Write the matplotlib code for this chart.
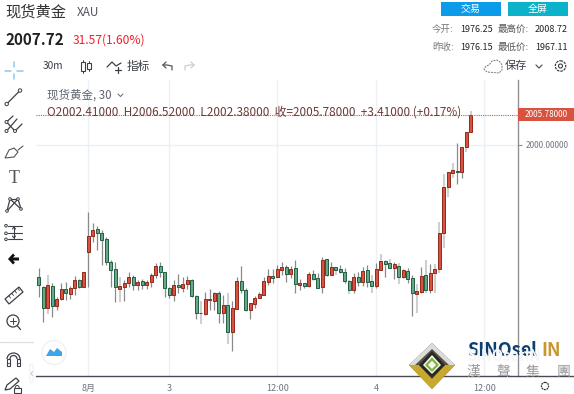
import matplotlib
matplotlib.use('Agg')
import matplotlib.pyplot as plt
from matplotlib.patches import Rectangle, Polygon, Circle, FancyBboxPatch, Arc

plt.rcParams['font.family'] = ['Noto Sans CJK SC', 'DejaVu Sans']

# candles (red = up, green = down)
opens = [1974.40, 1972.61, 1968.43, 1972.80, 1968.95, 1970.29, 1972.09, 1971.26, 1972.41, 1973.83,
         1972.61, 1979.22, 1982.30, 1983.65, 1983.01, 1981.72, 1977.36, 1975.95, 1972.22, 1972.61,
         1973.31, 1974.40, 1972.86, 1973.63, 1972.99, 1973.44, 1974.92, 1976.65, 1975.37, 1972.41,
         1971.06, 1972.86, 1972.41, 1973.11, 1973.89, 1970.87, 1967.53, 1967.33, 1970.03, 1969.91,
         1971.32, 1967.46, 1969.14, 1963.81, 1968.37, 1973.63, 1972.03, 1968.04, 1969.33, 1970.42,
         1970.93, 1973.56, 1974.60, 1974.47, 1975.88, 1976.33, 1975.11, 1976.13, 1972.99, 1973.25,
         1972.73, 1975.04, 1974.21, 1972.60, 1977.87, 1974.92, 1976.33, 1975.94, 1975.49, 1973.76,
         1972.03, 1974.47, 1973.57, 1975.75, 1973.76, 1972.67, 1975.88, 1977.49, 1977.10, 1976.27,
         1976.65, 1974.40, 1975.62, 1974.21, 1971.26, 1971.51, 1974.85, 1972.03, 1975.30, 1975.95,
         1983.01, 1991.75, 1994.57, 1994.83, 1994.70, 1999.59, 2002.41]
highs = [1976.14, 1972.73, 1974.92, 1973.38, 1970.55, 1973.38, 1973.44, 1972.73, 1974.66, 1974.02,
         1975.37, 1986.93, 1984.81, 1984.30, 1983.53, 1982.11, 1977.74, 1977.30, 1974.40, 1973.89,
         1975.43, 1974.85, 1973.89, 1974.02, 1973.89, 1975.18, 1977.23, 1977.42, 1975.50, 1972.61,
         1973.89, 1975.04, 1974.53, 1974.66, 1974.01, 1970.93, 1969.91, 1971.64, 1972.09, 1971.58,
         1971.71, 1971.06, 1971.32, 1969.91, 1974.40, 1976.58, 1972.28, 1969.39, 1970.80, 1971.64,
         1974.53, 1975.94, 1975.94, 1976.78, 1977.42, 1976.78, 1976.58, 1977.74, 1974.01, 1973.37,
         1975.49, 1975.82, 1975.17, 1978.38, 1977.87, 1977.29, 1976.46, 1976.71, 1976.14, 1973.89,
         1975.30, 1975.49, 1976.46, 1976.78, 1974.85, 1977.23, 1978.90, 1977.74, 1977.87, 1977.42,
         1977.10, 1975.94, 1976.14, 1974.85, 1973.12, 1976.46, 1977.74, 1976.97, 1976.97, 1985.13,
         1994.32, 1994.77, 1996.37, 2000.35, 1999.52, 2002.35, 2006.52]
lows = [1970.68, 1965.73, 1967.34, 1966.70, 1968.11, 1970.04, 1970.04, 1970.17, 1971.00, 1972.29,
        1972.48, 1972.48, 1981.28, 1979.67, 1976.78, 1976.72, 1972.48, 1969.72, 1969.72, 1969.91,
        1972.61, 1971.96, 1971.96, 1972.09, 1972.09, 1972.61, 1974.21, 1974.40, 1970.68, 1970.36,
        1969.91, 1971.32, 1971.64, 1972.09, 1970.68, 1966.43, 1965.41, 1967.14, 1968.11, 1968.11,
        1965.67, 1965.54, 1961.56, 1960.27, 1968.37, 1971.45, 1967.98, 1966.31, 1968.43, 1970.36,
        1970.93, 1972.92, 1973.25, 1974.40, 1974.85, 1973.50, 1974.21, 1971.45, 1971.96, 1972.28,
        1972.60, 1973.89, 1972.28, 1971.45, 1974.66, 1974.85, 1974.85, 1975.17, 1973.25, 1971.19,
        1971.45, 1972.73, 1972.80, 1972.60, 1971.32, 1972.28, 1975.82, 1974.40, 1975.94, 1974.15,
        1973.12, 1974.34, 1973.25, 1967.02, 1967.47, 1971.32, 1971.32, 1971.45, 1971.32, 1975.18,
        1979.99, 1989.95, 1993.48, 1992.39, 1993.61, 1998.62, 2002.38]
closes = [1972.86, 1968.43, 1972.99, 1968.95, 1970.29, 1972.22, 1971.45, 1972.41, 1973.83, 1972.48,
          1975.37, 1982.30, 1983.53, 1983.01, 1981.66, 1977.36, 1975.75, 1972.61, 1972.67, 1973.38,
          1974.40, 1972.99, 1973.57, 1972.86, 1973.44, 1974.92, 1976.65, 1975.50, 1972.29, 1971.06,
          1972.86, 1972.48, 1973.05, 1973.89, 1970.87, 1967.46, 1967.46, 1970.16, 1970.16, 1971.32,
          1967.46, 1969.14, 1963.93, 1968.43, 1973.70, 1971.96, 1968.04, 1969.39, 1970.42, 1971.12,
          1973.63, 1974.60, 1974.27, 1975.94, 1976.33, 1975.04, 1976.07, 1973.11, 1973.25, 1972.67,
          1975.04, 1974.15, 1972.41, 1977.74, 1974.85, 1976.33, 1975.88, 1975.49, 1973.76, 1971.96,
          1974.47, 1973.57, 1975.62, 1973.57, 1972.73, 1975.94, 1977.49, 1977.04, 1976.27, 1976.97,
          1974.40, 1975.82, 1974.15, 1971.32, 1971.77, 1974.72, 1972.03, 1975.17, 1975.94, 1983.01,
          1991.75, 1994.77, 1995.02, 1994.70, 1999.52, 2002.35, 2005.78]
# candles whose wick shows up pale and wide in the screenshot
pale_wicks = [2, 18, 36, 42, 66, 69, 74, 76, 78, 80, 84, 86, 88, 89, 90, 91, 92, 95, 96]

tick_pos = [11, 29, 53, 75, 99]
tick_labels = ['8月', '3', '12:00', '4', '12:00']
last_price = 2005.78

W, H = 574, 394
fig = plt.figure(figsize=(W / 100, H / 100), dpi=100, facecolor='white')

# chart area, pixel box 36..518 x 80..375.5
ax = fig.add_axes([36 / W, 1 - 375.5 / H, (518 - 36) / W, (375.5 - 80) / H])
ax.set_xlim(-0.6, 106.5)
ax.set_ylim(1955.49, 2012.43)
ax.set_facecolor('none')
for s in ['top', 'left', 'bottom']:
    ax.spines[s].set_visible(False)
ax.spines['right'].set_color('#8f8f94')
ax.spines['right'].set_linewidth(1.0)
ax.yaxis.tick_right()
ax.set_yticks([2000])
ax.set_yticklabels(['2000.00000'], fontsize=5.9, color='#6f7480')
ax.tick_params(axis='y', length=3, width=0.8, color='#8f8f94', pad=2.5)
ax.set_xticks(tick_pos)
ax.set_xticklabels(tick_labels, fontsize=6.5, color='#6f7480')
ax.tick_params(axis='x', length=0, pad=6)
ax.grid(True, color='#eaf0f6', linewidth=1.0)
ax.set_axisbelow(True)

for i in range(len(opens)):
    up = closes[i] >= opens[i]
    ax.vlines(i, lows[i], highs[i],
              color='#cfcfcf' if i in pale_wicks else '#8a8a8a',
              linewidth=1.5 if i in pale_wicks else 0.9, zorder=2)
    bottom = min(opens[i], closes[i])
    height = max(abs(closes[i] - opens[i]), 0.12)
    ax.add_patch(Rectangle((i - 0.36, bottom), 0.72, height,
                           facecolor='#d9523f' if up else '#68a888',
                           edgecolor='#8f2a1d' if up else '#1f5f40',
                           linewidth=0.7, zorder=3))

ax.axhline(last_price, color='#d9523f', linewidth=0.8, linestyle=(0, (1, 1)), zorder=4)

# everything else on an overlay in screen pixels
ui = fig.add_axes([0, 0, 1, 1], zorder=5)
ui.set_xlim(0, W)
ui.set_ylim(H, 0)
ui.axis('off')
ui.patch.set_alpha(0)

ink = '#3c3f48'


def label(x, y, s, size, color='#333333', ha='left', **kw):
    ui.text(x, y, s, fontsize=size, color=color, ha=ha, va='center', **kw)


def stroke(xs, ys, color=ink, lw=0.9, **kw):
    ui.plot(xs, ys, color=color, linewidth=lw, solid_capstyle='round', **kw)


def dot(x, y, r=1.5, lw=0.7):
    ui.add_patch(Circle((x, y), r, facecolor='white', edgecolor=ink, linewidth=lw, zorder=4))


ui.plot([36, 574], [375.5, 375.5], color='#4a4a55', linewidth=1.0)

# header
label(5, 12, '现货黄金', 11, '#333333')
label(77, 12.5, 'XAU', 8.5, '#4f5560')
label(5, 40, '2007.72', 11, '#222222', fontweight='bold')
label(73, 40.5, '31.57(1.60%)', 8.7, '#f0202a')

# buttons
ui.add_patch(Rectangle((441, 2), 60, 14, facecolor='#0b9be8', edgecolor='none'))
ui.add_patch(Rectangle((508, 2), 60, 14, facecolor='#0bb2c9', edgecolor='none'))
label(471, 9, '交易', 7.2, 'white', ha='center')
label(538, 9, '全屏', 7.2, 'white', ha='center')

# quote block
label(432, 29, '今开:', 6.8, '#777777')
label(460, 29, '1976.25', 6.5, '#222222')
label(498, 29, '最高价:', 6.8, '#555555')
label(568, 29, '2008.72', 6.5, '#222222', ha='right')
label(432, 47, '昨收:', 6.8, '#777777')
label(460, 47, '1976.15', 6.5, '#222222')
label(498, 47, '最低价:', 6.8, '#555555')
label(568, 47, '1967.11', 6.5, '#222222', ha='right')

# top toolbar
label(43, 66, '30m', 7.3, ink)
for cx, top, bottom in [(83, 61, 72), (89, 62, 70)]:
    stroke([cx, cx], [top - 1, bottom + 1], lw=0.7)
    ui.add_patch(Rectangle((cx - 1.7, top + 1), 3.4, bottom - top - 2, facecolor='white',
                           edgecolor=ink, linewidth=0.8, zorder=3))
stroke([107, 112, 116, 121], [67, 62, 66, 63])
stroke([118, 118], [67, 73])
stroke([115, 121], [70, 70])
label(127, 66, '指标', 8.4, ink)
stroke([163, 167, 172, 172], [65, 65, 66, 70], color='#555555')
stroke([163, 166], [65, 62], color='#555555')
stroke([163, 166], [65, 68], color='#555555')
stroke([194, 190, 185, 185], [65, 65, 66, 70], color='#c9ccd2')
stroke([194, 191], [65, 62], color='#c9ccd2')
stroke([194, 191], [65, 68], color='#c9ccd2')
# cloud, dashed
ui.plot([487, 484, 486, 489, 492, 497, 500, 502, 502, 499, 487],
        [72, 69, 66, 65, 61, 60, 62, 65, 70, 73, 72],
        color='#777777', linewidth=0.7, linestyle=(0, (2, 1)))
label(505, 66, '保存', 8, ink)
stroke([536, 539, 542], [65, 68, 65], color='#555555')
ui.add_patch(Circle((560.5, 66), 5.2, facecolor='none', edgecolor=ink, linewidth=0.9, linestyle=(0, (2, 0.8))))
ui.add_patch(Circle((560.5, 66), 2, facecolor='none', edgecolor=ink, linewidth=0.8))

# legend over the chart
label(47, 95, '现货黄金, 30', 8.3, '#5f6470')
stroke([118, 120.5, 123], [94, 96.5, 94], color='#5f6470', lw=0.7)
label(47, 112, 'O2002.41000  H2006.52000  L2002.38000  收=2005.78000  +3.41000 (+0.17%)', 8.5, '#6a3c3a')

# last price tag
ui.add_patch(Rectangle((518, 108), 56, 13, facecolor='#d9523f', edgecolor='none'))
label(546, 114.5, '2005.78000', 5.9, 'white', ha='center')

# left toolbar: crosshair
for xs, ys in [([5, 11], [70.5, 70.5]), ([17, 23], [70.5, 70.5]), ([14, 14], [62, 67]), ([14, 14], [74, 79])]:
    stroke(xs, ys, color='#8cc8ee', lw=1.1)
# line
stroke([6.7, 20], [104, 90.5])
dot(6.7, 104, 1.7)
dot(20, 90.5, 1.7)
# fork
stroke([6.5, 13], [122, 116])
stroke([6.5, 17], [131, 119])
stroke([15, 22], [131, 124])
stroke([6.5, 15], [122, 131])
dot(6.5, 122)
dot(6.5, 131)
dot(15, 131)
# brush
ui.add_patch(Polygon([(5, 158), (9, 150), (14, 148), (18, 152), (14, 157)], closed=True,
                     facecolor='white', edgecolor='#555555', linewidth=0.8))
stroke([18, 23], [150, 146], color='#555555', lw=0.8)
# text tool
label(14, 178, 'T', 13, '#555555', ha='center', fontfamily='Liberation Serif')
# pattern nodes
stroke([7, 10, 21], [211, 199, 209])
stroke([7, 18, 21], [211, 199, 209])
stroke([10, 18], [199, 199])
for px, py in [(7, 211), (10, 199), (18, 199), (21, 209)]:
    dot(px, py, 1.3)
# measure
for py in [225.7, 233.3, 239.3]:
    stroke([8, 22], [py, py], lw=0.8)
    dot(6, py, 1.3)
stroke([14, 14], [227, 238], lw=0.8)
stroke([12.5, 14, 15.5], [229, 227, 229], lw=0.8)
stroke([12.5, 14, 15.5], [236, 238, 236], lw=0.8)
# back arrow
ui.add_patch(Polygon([(8, 259), (13, 253.5), (15, 255.5), (13, 257.5), (19, 257.5), (19, 260.5),
                      (13, 260.5), (15, 262.5), (13, 264.5)], closed=True, facecolor='#111111', edgecolor='none'))
# ruler
ui.add_patch(Polygon([(5, 299), (19, 287), (23, 292), (9, 304)], closed=True, facecolor='white', edgecolor=ink, linewidth=0.9))
for tx, ty in [(9, 296), (12, 293.5), (15, 291), (18, 288.5)]:
    stroke([tx, tx + 1.5], [ty, ty + 2], lw=0.6)
# zoom
ui.add_patch(Circle((13, 321), 6, facecolor='none', edgecolor=ink, linewidth=0.9))
stroke([17.5, 20.5], [326, 329.5])
stroke([10, 16], [321, 321], lw=0.7)
stroke([13, 13], [318, 324], lw=0.7)
stroke([0, 33], [341.5, 341.5], color='#dddddd')
# magnet
ui.add_patch(Arc((13.5, 359), 13, 12, theta1=180, theta2=360, edgecolor=ink, linewidth=0.9))
ui.add_patch(Arc((13.5, 359), 7, 7, theta1=180, theta2=360, edgecolor=ink, linewidth=0.9))
for lx, rx in [(7, 10), (17, 20)]:
    ui.add_patch(Rectangle((lx, 359), rx - lx, 7, facecolor='white', edgecolor=ink, linewidth=0.8))
    stroke([lx, rx], [363, 363], lw=0.6)
# pencil and lock
ui.add_patch(Polygon([(5, 390), (7, 385), (16, 378), (19, 381), (10, 389)], closed=True,
                     facecolor='white', edgecolor=ink, linewidth=0.9))
ui.add_patch(Rectangle((14, 388), 6.5, 5, facecolor='white', edgecolor=ink, linewidth=0.8))
ui.add_patch(Arc((17.2, 388), 4, 5, theta1=180, theta2=360, edgecolor=ink, linewidth=0.7))

# cloud badge
ui.add_patch(Circle((54, 352.5), 12, facecolor='white', edgecolor='#eef0f3', linewidth=0.9))
ui.add_patch(Polygon([(46, 356), (50, 349), (54, 352), (57, 348), (62, 352), (62, 356)], closed=True,
                     facecolor='#3ea5e8', edgecolor='none'))
ui.add_patch(FancyBboxPatch((30.5, 365), 2, 17, boxstyle='round,pad=0.6', facecolor='white', edgecolor='#eceef1', linewidth=0.7))
stroke([32.5, 31, 32.5], [371.5, 373.5, 375.5], color='#b8c2cc', lw=0.6)

# bottom gear
ui.add_patch(Circle((545, 386), 3.6, facecolor='none', edgecolor='#333333', linewidth=0.9, linestyle=(0, (1.5, 0.6))))

# watermark logo
ui.add_patch(Polygon([(409, 365), (432, 343), (455, 365), (432, 389)], closed=True, facecolor='#55524b', edgecolor='none', zorder=6))
ui.add_patch(Polygon([(409, 365), (432, 389), (455, 365), (445, 365), (432, 379), (419, 365)], closed=True, facecolor='#c9a82c', edgecolor='none', zorder=6))
ui.add_patch(Polygon([(432, 343), (455, 365), (449, 365), (432, 349), (415, 365), (409, 365)], closed=True, facecolor='#dcdcd8', edgecolor='none', zorder=6))
ui.add_patch(Polygon([(432, 351), (445, 365), (432, 378), (419, 365)], closed=True, facecolor='#2b2723', edgecolor='none', zorder=6))
ui.add_patch(Polygon([(432, 355), (441, 365), (432, 374), (423, 365)], closed=True, facecolor='#f4f4ee', edgecolor='none', zorder=6))
ui.add_patch(Polygon([(432, 359), (437.5, 365), (432, 370.5), (426.5, 365)], closed=True, facecolor='none', edgecolor='#7eb23a', linewidth=1.5, zorder=6))
ui.text(467, 350, 'SINOsel', fontsize=13, color='#0c3f6e', fontweight='bold', ha='left', va='center', zorder=6)
ui.text(541, 350, 'IN', fontsize=13, color='#c8952e', fontweight='bold', ha='left', va='center', zorder=6)
ui.text(467, 356, 'SINOsetIN', fontsize=10.5, color='#f5f5f5', fontweight='bold', ha='left', va='center', zorder=7)
for cx, ch in zip([473, 503, 533, 564], '漢聲集團'):
    ui.text(cx, 372, ch, fontsize=10, color='#9a9a9a', ha='center', va='center', zorder=7, fontfamily='Noto Sans CJK TC')

fig.savefig('out.png', dpi=100)
plt.close(fig)
